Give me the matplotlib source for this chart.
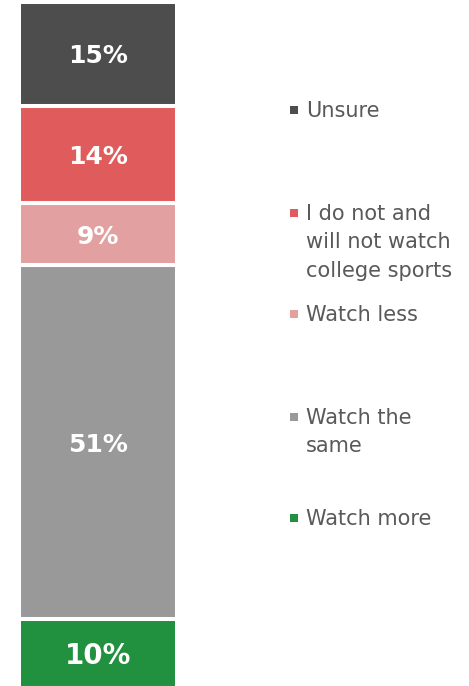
import matplotlib
matplotlib.use("Agg")
import matplotlib.pyplot as plt

# stacked from the bottom up
categories = ["Watch more", "Watch the\nsame", "Watch less",
              "I do not and\nwill not watch\ncollege sports", "Unsure"]
shares = [10, 51, 9, 14, 15]
colors = ["#21913f", "#999999", "#e3a0a1", "#e05c5c", "#4d4d4d"]
label_sizes = [20, 18, 18, 18, 18]

# legend rows, top to bottom, pixel y of the first text line
legend_order = [4, 3, 2, 1, 0]
legend_y = [110, 213, 314, 417, 518]

W, H = 469, 686
fig = plt.figure(figsize=(W / 100, H / 100), dpi=100)
fig.patch.set_facecolor("white")

ax = fig.add_axes([19 / W, -2 / H, 158 / W, 1])
bottom = 0
for val, col, fs in zip(shares, colors, label_sizes):
    ax.bar(0, val, bottom=bottom, width=1, color=col,
           edgecolor="white", linewidth=2.9)
    ax.text(0, bottom + val / 2, f"{val}%", ha="center",
            va="center_baseline", color="white", fontsize=fs,
            fontweight="bold")
    bottom += val
ax.set_xlim(-0.5, 0.5)
ax.set_ylim(0, bottom)
ax.axis("off")

# legend drawn by hand on an overlay in pixel units
lg = fig.add_axes([0, 0, 1, 1])
lg.set_xlim(0, W)
lg.set_ylim(H, 0)
lg.axis("off")
for idx, y in zip(legend_order, legend_y):
    lg.scatter(294, y, marker="s", s=36, color=colors[idx], linewidths=0)
    # first line centred on y
    lg.text(306, y - 9, categories[idx], ha="left", va="top",
            fontsize=15, color="#595959", linespacing=1.53)

fig.savefig("out.png", dpi=100, facecolor="white")
